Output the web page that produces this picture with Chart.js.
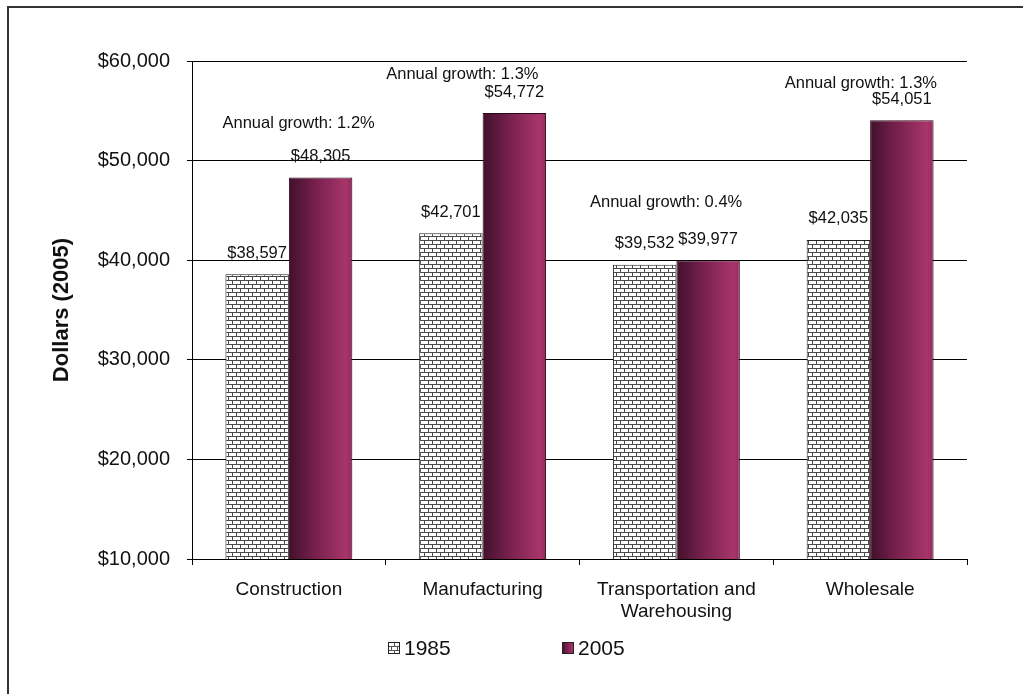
<!DOCTYPE html>
<html lang="en">
<head>
    <meta charset="UTF-8">
    <title>Earnings by Industry, 1985 and 2005</title>
    <script src="https://cdn.jsdelivr.net/npm/chart.js"></script>
    <style>
        body {
            margin: 0;
            padding: 0;
            background: #fff;
            overflow: hidden;
        }
        #wrap {
            position: relative;
            width: 1023px;
            height: 694px;
            overflow: hidden;
        }
        #frame {
            position: absolute;
            left: 7px;
            top: 6px;
            width: 1040px;
            height: 720px;
            border: 2px solid #333;
            pointer-events: none;
        }
    </style>
</head>
<body>
    <div id="wrap">
        <canvas id="earningsChart"></canvas>
        <div id="frame"></div>
    </div>

    <script>
        const categories = ['Construction', 'Manufacturing', ['Transportation and', 'Warehousing'], 'Wholesale'];
        const seriesNames = ['1985', '2005'];
        const values1985 = [38597, 42701, 39532, 42035];
        const values2005 = [48305, 54772, 39977, 54051];
        const growthLabels = ['Annual growth: 1.2%', 'Annual growth: 1.3%', 'Annual growth: 0.4%', 'Annual growth: 1.3%'];
        const yMin = 10000;
        const yMax = 60000;
        const yStep = 10000;

        const FONT = "'Liberation Sans', Arial, sans-serif";
        const CAT_PCT = 0.655;

        // brick fill for the 1985 bars
        function makeBrick() {
            const c = document.createElement('canvas');
            c.width = 8;
            c.height = 8;
            const g = c.getContext('2d');
            g.fillStyle = '#fff';
            g.fillRect(0, 0, 8, 8);
            g.fillStyle = '#4a4a4a';
            g.fillRect(0, 0, 8, 1);
            g.fillRect(0, 4, 8, 1);
            g.fillRect(0, 0, 1, 4);
            g.fillRect(4, 4, 1, 4);
            return c;
        }
        const brickTile = makeBrick();
        const brick = document.createElement('canvas').getContext('2d').createPattern(brickTile, 'repeat');

        function maroonGradient(g, x0, x1) {
            const grad = g.createLinearGradient(x0, 0, x1, 0);
            grad.addColorStop(0, '#42102c');
            grad.addColorStop(0.45, '#7a224f');
            grad.addColorStop(0.9, '#a8356a');
            grad.addColorStop(1, '#952a5c');
            return grad;
        }

        function money(v) {
            return '$' + v.toLocaleString('en-US');
        }

        // value labels, growth notes and the legend
        const annotate = {
            id: 'annotate',
            afterDatasetsDraw(chart) {
                const g = chart.ctx;
                g.save();
                g.fillStyle = '#111';
                g.textAlign = 'center';
                g.textBaseline = 'middle';
                g.font = '16.5px ' + FONT;
                chart.data.datasets.forEach((ds, di) => {
                    chart.getDatasetMeta(di).data.forEach((bar, i) => {
                        g.fillText(money(ds.data[i]), bar.x, bar.y - 21);
                    });
                });

                // growth notes sit up and to the left of the 2005 value
                const shift = [[-22, -33], [-52, -18], [-42, -37], [-41, -16]];
                const bars05 = chart.getDatasetMeta(1).data;
                growthLabels.forEach((txt, i) => {
                    const b = bars05[i];
                    g.fillText(txt, b.x + shift[i][0], b.y - 21 + shift[i][1]);
                });

                // legend
                const items = [388, 562];
                const ly = 648;
                g.textAlign = 'left';
                g.font = '21px ' + FONT;
                items.forEach((lx, i) => {
                    if (i === 0) {
                        g.fillStyle = '#fff';
                        g.fillRect(lx, ly - 6, 12, 12);
                        g.fillStyle = '#555';
                        g.fillRect(lx, ly - 2, 12, 1);
                        g.fillRect(lx, ly + 2, 12, 1);
                        g.fillRect(lx + 6, ly - 6, 1, 4);
                        g.fillRect(lx + 3, ly - 2, 1, 4);
                        g.fillRect(lx + 9, ly - 2, 1, 4);
                        g.fillRect(lx + 6, ly + 2, 1, 4);
                    } else {
                        g.fillStyle = maroonGradient(g, lx, lx + 12);
                        g.fillRect(lx, ly - 6, 12, 12);
                    }
                    g.strokeStyle = '#222';
                    g.lineWidth = 1;
                    g.strokeRect(lx + 0.5, ly - 5.5, 11, 11);
                    g.fillStyle = '#111';
                    g.fillText(seriesNames[i], lx + 16, ly + 1);
                });
                g.restore();
            }
        };

        new Chart(document.getElementById('earningsChart').getContext('2d'), {
            type: 'bar',
            data: {
                labels: categories,
                datasets: [
                    {
                        label: seriesNames[0],
                        data: values1985,
                        backgroundColor: brick,
                        borderColor: '#222',
                        borderWidth: 1,
                        categoryPercentage: CAT_PCT,
                        barPercentage: 1
                    },
                    {
                        label: seriesNames[1],
                        data: values2005,
                        backgroundColor: (ctx) => {
                            const chart = ctx.chart;
                            const xs = chart.scales.x;
                            if (!xs || !chart.chartArea) return '#7a224f';
                            const bw = xs.width / categories.length * CAT_PCT / 2;
                            const left = xs.getPixelForValue(ctx.dataIndex);
                            return maroonGradient(chart.ctx, left, left + bw);
                        },
                        borderColor: '#2a0818',
                        borderWidth: 1,
                        categoryPercentage: CAT_PCT,
                        barPercentage: 1
                    }
                ]
            },
            options: {
                responsive: true,
                maintainAspectRatio: false,
                animation: false,
                layout: {
                    padding: { left: 0, top: 61, right: 56, bottom: 55 }
                },
                plugins: {
                    legend: { display: false },
                    tooltip: { enabled: false }
                },
                scales: {
                    x: {
                        afterFit: (s) => { s.height = 80; },
                        grid: {
                            offset: true,
                            drawOnChartArea: false,
                            drawTicks: true,
                            tickLength: 6,
                            color: '#000'
                        },
                        border: { color: '#000', width: 1 },
                        ticks: {
                            color: '#111',
                            padding: 13,
                            maxRotation: 0,
                            font: { family: FONT, size: 19, lineHeight: 1.2 }
                        }
                    },
                    y: {
                        min: yMin,
                        max: yMax,
                        afterFit: (s) => { s.width = 192; },
                        grid: {
                            color: '#000',
                            tickLength: 5
                        },
                        border: { color: '#000', width: 1 },
                        ticks: {
                            stepSize: yStep,
                            color: '#111',
                            padding: 17,
                            font: { family: FONT, size: 20 },
                            callback: (v) => money(v)
                        },
                        title: {
                            display: true,
                            text: 'Dollars (2005)',
                            color: '#111',
                            padding: { top: 49, bottom: 0 },
                            font: { family: FONT, size: 22, weight: 'bold', lineHeight: 1.2 }
                        }
                    }
                }
            },
            plugins: [annotate]
        });
    </script>
</body>
</html>
